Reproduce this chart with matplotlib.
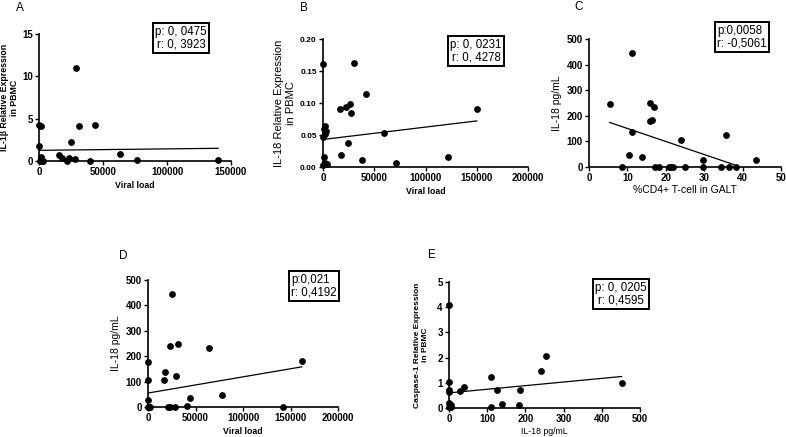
import matplotlib
matplotlib.use("Agg")
import matplotlib.pyplot as plt

plt.rcParams['font.family'] = ['Liberation Sans', 'DejaVu Sans']

W, H = 786, 437

# ---- dados ----
# A: IL-1b vs carga viral
a_x = [0, 1800, 0, 800, 1500, 2500, 3500, 16000, 17700, 22100, 23400, 25300,
       28600, 28100, 31300, 43700, 39800, 63500, 76300, 139800]
a_y = [4.2, 4.1, 1.8, 0.0, 0.5, 0.0, 0.0, 0.67, 0.35, 0.0, 0.3, 2.3,
       11.0, 0.24, 4.1, 4.2, 0.05, 0.8, 0.1, 0.1]
a_linha_x = [0, 140000]
a_linha_y = [1.26, 1.5]

# B: IL-18 PBMC vs carga viral
b_x = [0, 1500, 500, 2500, 1500, 0, 800, 1800, 3500, 0,
       16200, 17500, 22600, 24600, 26500, 27800, 30100, 41700, 38200,
       59500, 71500, 122000, 149800]
b_y = [0.161, 0.064, 0.060, 0.056, 0.051, 0.047, 0.016, 0.006, 0.004, 0.003,
       0.091, 0.018, 0.093, 0.038, 0.098, 0.085, 0.163, 0.114, 0.0105,
       0.053, 0.007, 0.016, 0.091]
b_linha_x = [0, 150000]
b_linha_y = [0.043, 0.072]

# C: IL-18 pg/mL vs %CD4+ no GALT
c_x = [5.4, 8.5, 10.3, 11.3, 11.1, 13.9, 15.8, 16.0, 16.4, 16.8, 17.2, 18.3,
       20.9, 21.4, 22.0, 24.0, 24.9, 29.6, 29.6, 34.4, 35.7, 36.5, 38.2, 43.5]
c_y = [245, 0, 48, 445, 137, 39, 251, 180, 183, 235, 0, 0,
       0, 0, 0, 107, 0, 29, 0, 0, 124, 0, 0, 29]
c_linha_x = [5.4, 37.8]
c_linha_y = [174, 9]

# D: IL-18 pg/mL vs carga viral
d_x = [0, 0, 0, 0, 1000, 2500, 17600, 16600, 21100, 23600, 28200, 22900,
       25700, 29200, 32000, 44700, 41100, 64300, 77400, 141800, 161800]
d_y = [178, 105, 26, 0, 0, 0, 137, 108, 0, 0, 0, 242,
       445, 122, 250, 37, 4, 234, 46, 0, 182]
d_linha_x = [0, 161800]
d_linha_y = [55, 158]

# E: caspase-1 vs IL-18 pg/mL
e_x = [0, 0, 0, 0, 0, 4, 0, 6, 29, 39, 110, 126, 109, 140, 182, 187, 240, 255, 452]
e_y = [4.1, 1.02, 0.73, 0.64, 0.2, 0.1, 0.03, 0.05, 0.66, 0.82, 1.23, 0.73,
       0.04, 0.17, 0.1, 0.7, 1.45, 2.05, 0.99]
e_linha_x = [0, 452]
e_linha_y = [0.6, 1.25]

fig = plt.figure(figsize=(W / 100, H / 100), dpi=100)


def criar_eixo(x0, x1, ytop, ybot):
    ax = fig.add_axes([x0 / W, 1 - ybot / H, (x1 - x0) / W, (ybot - ytop) / H])
    for lado in ["top", "right"]:
        ax.spines[lado].set_visible(False)
    for lado in ["left", "bottom"]:
        ax.spines[lado].set_linewidth(1.2)
    ax.tick_params(direction="out", length=3, width=1.0, labelsize=7, pad=1.5)
    return ax


def negrito(ax):
    for rotulo in ax.get_xticklabels() + ax.get_yticklabels():
        rotulo.set_fontweight("bold")


def desenhar(ax, x, y, lx, ly):
    ax.scatter(x, y, s=15, color="black", zorder=3, clip_on=False)
    ax.plot(lx, ly, color="black", linewidth=0.9)


def caixa(x, y, texto, alinhar="center"):
    fig.text(x / W, 1 - y / H, texto, fontsize=8.3, ha="center", va="center",
             multialignment=alinhar, linespacing=1.1,
             bbox=dict(boxstyle="square,pad=0.2", fc="white", ec="black", lw=1.4))


# A
ax = criar_eixo(39, 231, 34, 161)
desenhar(ax, a_x, a_y, a_linha_x, a_linha_y)
ax.set_xlim(0, 150000)
ax.set_ylim(0, 15)
ax.set_xticks([0, 50000, 100000, 150000])
ax.set_yticks([0, 5, 10, 15])
negrito(ax)
ax.set_xlabel("Viral load", fontsize=6.3, fontweight="bold", labelpad=3)
ax.set_ylabel("IL-1β Relative Expression\nin PBMC", fontsize=6.3, fontweight="bold", labelpad=2)
caixa(181, 38, "p: 0, 0475\nr: 0, 3923")
fig.text(16 / W, 1 - 8 / H, "A", fontsize=8.5, va="center")

# B
ax = criar_eixo(323, 528, 39, 167)
desenhar(ax, b_x, b_y, b_linha_x, b_linha_y)
ax.set_xlim(0, 200000)
ax.set_ylim(0, 0.20)
ax.set_xticks([0, 50000, 100000, 150000, 200000])
ax.set_yticks([0, 0.05, 0.10, 0.15, 0.20])
ax.set_yticklabels(["0.00", "0.05", "0.10", "0.15", "0.20"])
ax.tick_params(axis="y", labelsize=6)
negrito(ax)
ax.set_xlabel("Viral load", fontsize=6.3, fontweight="bold", labelpad=3)
ax.set_ylabel("IL-18 Relative Expression\nin PBMC", fontsize=8, labelpad=3)
caixa(476, 51, "p: 0, 0231\nr: 0, 4278")
fig.text(300 / W, 1 - 8 / H, "B", fontsize=8.5, va="center")

# C
ax = criar_eixo(589, 781, 39, 167)
desenhar(ax, c_x, c_y, c_linha_x, c_linha_y)
ax.set_xlim(0, 50)
ax.set_ylim(0, 500)
ax.set_xticks([0, 10, 20, 30, 40, 50])
ax.set_yticks([0, 100, 200, 300, 400, 500])
negrito(ax)
ax.set_xlabel("%CD4+ T-cell in GALT", fontsize=7.5, labelpad=1)
ax.set_ylabel("IL-18 pg/mL", fontsize=7.5, labelpad=3)
caixa(742, 37, "p:0,0058\nr: -0,5061", alinhar="left")
fig.text(574 / W, 1 - 7 / H, "C", fontsize=8.5, va="center")

# D
ax = criar_eixo(148, 338, 280, 407)
desenhar(ax, d_x, d_y, d_linha_x, d_linha_y)
ax.set_xlim(0, 200000)
ax.set_ylim(0, 500)
ax.set_xticks([0, 50000, 100000, 150000, 200000])
ax.set_yticks([0, 100, 200, 300, 400, 500])
negrito(ax)
ax.set_xlabel("Viral load", fontsize=6.3, fontweight="bold", labelpad=3)
ax.set_ylabel("IL-18 pg/mL", fontsize=7.5, labelpad=3)
caixa(314, 286, "p:0,021\nr: 0,4192", alinhar="left")
fig.text(119 / W, 1 - 256 / H, "D", fontsize=8.5, va="center")

# E
ax = criar_eixo(449, 640, 282, 408)
desenhar(ax, e_x, e_y, e_linha_x, e_linha_y)
ax.set_xlim(0, 500)
ax.set_ylim(0, 5)
ax.set_xticks([0, 100, 200, 300, 400, 500])
ax.set_yticks([0, 1, 2, 3, 4, 5])
negrito(ax)
ax.set_xlabel("IL-18 pg/mL", fontsize=6.3, labelpad=2)
ax.set_ylabel("Caspase-1 Relative Expression\nin PBMC", fontsize=6, fontweight="bold", labelpad=6)
caixa(621, 294, "p: 0, 0205\nr: 0,4595")
fig.text(428 / W, 1 - 255 / H, "E", fontsize=8.5, va="center")

fig.savefig("out.png", dpi=100)
